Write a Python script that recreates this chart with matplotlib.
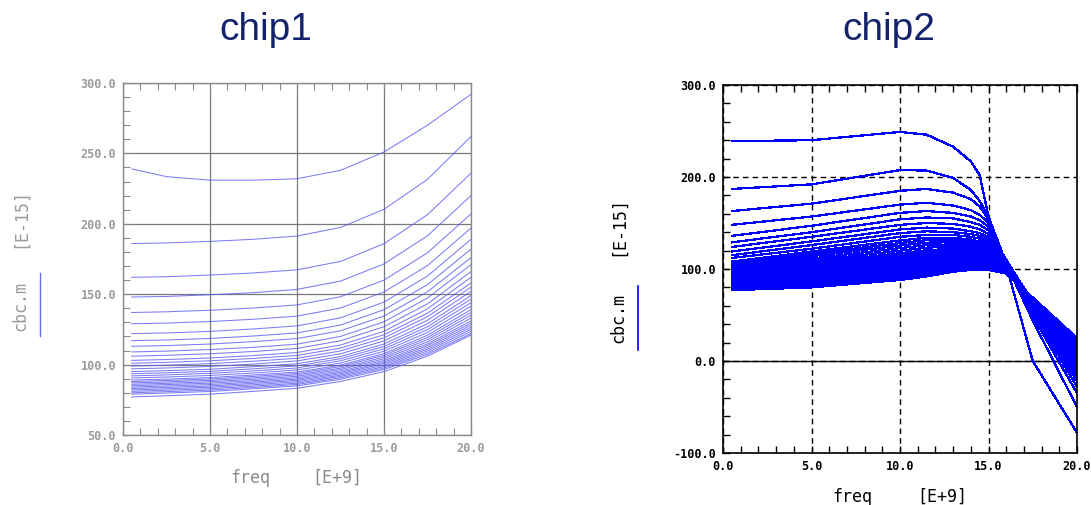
import numpy as np
import matplotlib
matplotlib.use('Agg')
import matplotlib.pyplot as plt
from matplotlib.lines import Line2D
from matplotlib.ticker import MultipleLocator, FormatStrFormatter

######################################################################
# cbc.m [E-15] vs freq [E+9], one curve per bias point

chip1_freq = [0.5, 2.5, 5.0, 7.5, 10.0, 12.5, 15.0, 17.5, 20.0]

chip1_cbc = [
    [239.0, 233.5, 231.0, 231.0, 232.0, 238.0, 251.0, 270.0, 292.0],
    [186.0, 186.4, 187.5, 189.0, 191.3, 197.4, 210.3, 231.6, 262.0],
    [162.0, 162.4, 163.6, 165.1, 167.3, 173.3, 185.9, 206.5, 236.0],
    [148.0, 148.4, 149.6, 151.1, 153.4, 159.3, 171.5, 191.5, 220.0],
    [137.0, 137.5, 138.6, 140.2, 142.4, 148.2, 160.0, 179.4, 207.0],
    [129.0, 129.5, 130.6, 132.2, 134.4, 140.2, 151.6, 170.3, 197.0],
    [122.0, 122.5, 123.6, 125.3, 127.5, 133.2, 144.4, 162.9, 189.0],
    [117.0, 117.5, 118.6, 120.3, 122.5, 128.1, 139.0, 156.8, 182.0],
    [113.0, 113.5, 114.6, 116.3, 118.5, 124.0, 134.5, 151.7, 176.0],
    [109.0, 109.6, 110.7, 112.3, 114.5, 120.0, 130.4, 147.3, 171.0],
    [106.0, 106.6, 107.7, 109.3, 111.5, 116.9, 126.9, 143.1, 166.0],
    [103.0, 103.6, 104.7, 106.4, 108.6, 113.9, 123.7, 139.6, 162.0],
    [101.0, 101.6, 102.7, 104.4, 106.5, 111.7, 121.2, 136.5, 158.0],
    [99.0, 99.6, 100.7, 102.4, 104.5, 109.7, 119.0, 134.0, 155.0],
    [97.0, 97.6, 98.7, 100.4, 102.6, 107.7, 116.8, 131.5, 152.0],
    [95.0, 95.7, 96.7, 98.5, 100.6, 105.7, 114.6, 129.0, 149.0],
    [93.5, 94.2, 95.2, 97.0, 99.1, 104.2, 112.9, 126.9, 146.5],
    [92.0, 92.7, 93.8, 95.5, 97.6, 102.7, 111.2, 124.9, 144.0],
    [90.5, 91.2, 92.3, 94.0, 96.2, 101.1, 109.5, 122.9, 141.5],
    [89.0, 89.7, 90.8, 92.6, 94.7, 99.6, 107.8, 120.9, 139.0],
    [88.0, 88.7, 89.8, 91.6, 93.7, 98.6, 106.6, 119.3, 137.0],
    [87.0, 87.7, 88.8, 90.6, 92.7, 97.5, 105.3, 117.8, 135.0],
    [86.0, 86.7, 87.8, 89.6, 91.7, 96.5, 104.1, 116.2, 133.0],
    [85.0, 85.8, 86.8, 88.6, 90.7, 95.4, 102.9, 114.7, 131.0],
    [84.0, 84.8, 85.8, 87.6, 89.7, 94.4, 101.8, 113.5, 129.5],
    [83.0, 83.8, 84.8, 86.7, 88.8, 93.5, 100.8, 112.2, 128.0],
    [82.0, 82.8, 83.9, 85.7, 87.8, 92.5, 99.7, 111.0, 126.5],
    [81.0, 81.8, 82.9, 84.7, 86.8, 91.6, 98.6, 109.8, 125.0],
    [80.0, 80.8, 81.9, 83.8, 85.9, 90.6, 97.6, 108.5, 123.5],
    [79.0, 79.8, 80.9, 82.8, 84.9, 89.6, 96.5, 107.3, 122.0],
    [77.0, 77.9, 79.0, 81.0, 83.2, 88.0, 95.0, 106.0, 121.0],
]

chip2_freq = [0.5, 5.0, 10.0, 11.5, 13.0, 14.0, 14.5, 15.0, 16.0, 17.5, 20.0]

chip2_cbc = [
    [239.0, 240.0, 249.0, 246.0, 233.0, 217.0, 202.0, 157.0, 104.0, 0.0, -78.0],
    [187.0, 192.0, 207.5, 207.0, 199.0, 186.0, 174.0, 157.0, 106.0, 44.0, -50.0],
    [163.0, 171.0, 185.0, 187.0, 183.0, 176.0, 168.0, 154.0, 107.0, 49.0, -35.0],
    [148.0, 157.0, 170.0, 172.0, 169.0, 164.0, 159.0, 150.0, 108.0, 53.0, -28.0],
    [136.0, 147.0, 161.0, 163.0, 161.0, 157.0, 153.0, 146.0, 109.0, 56.0, -22.0],
    [129.0, 140.0, 154.0, 156.0, 155.0, 151.0, 148.0, 142.0, 110.0, 58.0, -18.0],
    [124.0, 135.0, 148.0, 150.0, 149.0, 146.0, 143.0, 138.0, 110.0, 60.0, -15.0],
    [119.0, 130.0, 143.0, 145.0, 144.0, 141.0, 139.0, 135.0, 110.0, 62.0, -12.0],
    [115.0, 126.0, 139.0, 141.0, 140.0, 138.0, 136.0, 132.0, 110.0, 63.0, -9.5],
    [112.0, 122.0, 135.0, 137.0, 137.0, 135.0, 133.0, 129.0, 110.0, 64.0, -7.0],
    [108.0, 119.0, 131.0, 134.0, 134.0, 132.0, 130.0, 126.0, 109.0, 65.0, -5.0],
    [106.0, 116.5, 128.2, 131.3, 131.6, 129.9, 128.0, 124.2, 108.1, 65.3, -3.0],
    [104.0, 114.0, 125.5, 128.6, 129.2, 127.7, 126.1, 122.5, 107.2, 65.5, -1.1],
    [102.0, 111.4, 122.7, 125.9, 126.8, 125.6, 124.1, 120.8, 106.3, 65.8, 0.8],
    [100.0, 108.9, 119.9, 123.2, 124.5, 123.5, 122.1, 119.0, 105.4, 66.0, 2.7],
    [98.0, 106.4, 117.1, 120.4, 122.0, 121.3, 120.1, 117.3, 104.5, 66.3, 4.7],
    [96.5, 104.5, 115.0, 118.4, 120.3, 119.8, 118.7, 116.0, 103.8, 66.5, 6.1],
    [95.0, 102.7, 113.0, 116.4, 118.5, 118.2, 117.2, 114.7, 103.1, 66.7, 7.6],
    [93.5, 100.7, 110.9, 114.3, 116.7, 116.6, 115.7, 113.4, 102.4, 66.9, 9.0],
    [92.0, 98.9, 108.8, 112.3, 114.9, 115.0, 114.3, 112.1, 101.8, 67.1, 10.5],
    [90.5, 97.0, 106.7, 110.3, 113.1, 113.4, 112.8, 110.7, 101.1, 67.3, 12.0],
    [89.0, 95.1, 104.6, 108.3, 111.3, 111.8, 111.3, 109.4, 100.4, 67.5, 13.4],
    [87.5, 93.2, 102.6, 106.2, 109.5, 110.2, 109.8, 108.2, 99.7, 67.6, 14.8],
    [86.0, 91.3, 100.5, 104.2, 107.7, 108.6, 108.3, 106.8, 99.1, 67.8, 16.3],
    [84.5, 89.4, 98.4, 102.2, 106.0, 107.0, 106.9, 105.5, 98.4, 68.0, 17.7],
    [83.0, 87.6, 96.3, 100.1, 104.2, 105.4, 105.4, 104.2, 97.7, 68.2, 19.2],
    [81.5, 85.7, 94.2, 98.1, 102.4, 103.8, 103.9, 102.9, 97.0, 68.4, 20.7],
    [80.0, 83.8, 92.2, 96.1, 100.6, 102.2, 102.5, 101.6, 96.4, 68.6, 22.1],
    [78.5, 81.9, 90.1, 94.0, 98.8, 100.6, 101.0, 100.3, 95.7, 68.8, 23.6],
    [77.0, 80.0, 88.0, 92.0, 97.0, 99.0, 99.5, 99.0, 95.0, 69.0, 25.0],
]

chip_titles = ['chip1', 'chip2']

######################################################################

W, H = 1091, 505
fig = plt.figure(figsize=(W/100, H/100), dpi=100)

def px(x, y):
    # pixel position (from top left) -> figure fraction
    return x / W, 1 - y / H

title_color = '#13226b'
mono = 'DejaVu Sans Mono'

######################################################################
# chip1: soft grey frame, solid grid, pale blue curves

ax1 = fig.add_axes([123/W, 1 - 435/H, 348/W, 352/H])
for row in chip1_cbc:
    ax1.plot(chip1_freq, row, color='#5a5af5', lw=0.75, alpha=0.8)

ax1.set_xlim(0, 20)
ax1.set_ylim(50, 300)
ax1.xaxis.set_major_locator(MultipleLocator(5))
ax1.xaxis.set_minor_locator(MultipleLocator(1))
ax1.yaxis.set_major_locator(MultipleLocator(50))
ax1.yaxis.set_minor_locator(MultipleLocator(10))
ax1.xaxis.set_major_formatter(FormatStrFormatter('%.1f'))
ax1.yaxis.set_major_formatter(FormatStrFormatter('%.1f'))
ax1.grid(True, which='major', color='#7a7a7a', lw=0.9)
for s in ax1.spines.values():
    s.set_color('#8a8a8a')
    s.set_linewidth(1.0)
ax1.tick_params(which='both', direction='in', top=True, right=False,
                length=5, width=0.8, color='#8a8a8a')
ax1.tick_params(axis='both', which='major', labelsize=8.5, labelcolor='#9a9a9a', pad=5)
for lab in ax1.get_xticklabels() + ax1.get_yticklabels():
    lab.set_family(mono)
    lab.set_weight('bold')

fig.text(*px(20, 218), '[E-15]', rotation=90, ha='center', va='center',
         family=mono, fontsize=12, color='#9a9a9a')
fig.text(*px(20, 306), 'cbc.m', rotation=90, ha='center', va='center',
         family=mono, fontsize=12, color='#9a9a9a')
fig.add_artist(Line2D([40/W, 40/W], [1 - 273/H, 1 - 336/H],
                      color='#6a6af5', lw=1.0))
fig.text(*px(250, 478), 'freq', ha='center', va='center',
         family=mono, fontsize=12, color='#8a8a8a')
fig.text(*px(337, 478), '[E+9]', ha='center', va='center',
         family=mono, fontsize=12, color='#8a8a8a')

######################################################################
# chip2: black frame, dashed grid, bright blue curves

ax2 = fig.add_axes([723/W, 1 - 453/H, 354/W, 368/H])
for row in chip2_cbc:
    ax2.plot(chip2_freq, row, color='#0000ff', lw=0.9, antialiased=False)

ax2.set_xlim(0, 20)
ax2.set_ylim(-100, 300)
ax2.xaxis.set_major_locator(MultipleLocator(5))
ax2.xaxis.set_minor_locator(MultipleLocator(1))
ax2.yaxis.set_major_locator(MultipleLocator(100))
ax2.yaxis.set_minor_locator(MultipleLocator(20))
ax2.xaxis.set_major_formatter(FormatStrFormatter('%.1f'))
ax2.yaxis.set_major_formatter(FormatStrFormatter('%.1f'))
ax2.grid(True, which='major', color='black', lw=1.0, ls=(0, (4, 3)))
ax2.axhline(0, color='black', lw=1.0, zorder=1)
for s in ax2.spines.values():
    s.set_color('black')
    s.set_linewidth(1.2)
ax2.tick_params(which='both', direction='in', top=True, right=False,
                length=5, width=1.0, color='black')
ax2.tick_params(axis='both', which='major', labelsize=8.5, labelcolor='black', pad=5)
for lab in ax2.get_xticklabels() + ax2.get_yticklabels():
    lab.set_family(mono)
    lab.set_weight('bold')

fig.text(*px(618, 226), '[E-15]', rotation=90, ha='center', va='center',
         family=mono, fontsize=12, color='black')
fig.text(*px(618, 318), 'cbc.m', rotation=90, ha='center', va='center',
         family=mono, fontsize=12, color='black')
fig.add_artist(Line2D([638/W, 638/W], [1 - 286/H, 1 - 350/H],
                      color='#0000ff', lw=1.2))
fig.text(*px(852, 497), 'freq', ha='center', va='center',
         family=mono, fontsize=12, color='black')
fig.text(*px(942, 497), '[E+9]', ha='center', va='center',
         family=mono, fontsize=12, color='black')

######################################################################
# titles

for xc, name in zip([266, 889], chip_titles):
    fig.text(*px(xc, 40), name, ha='center', va='baseline',
             family='Liberation Sans', fontsize=28, color=title_color)

fig.savefig('out.png', dpi=100)
